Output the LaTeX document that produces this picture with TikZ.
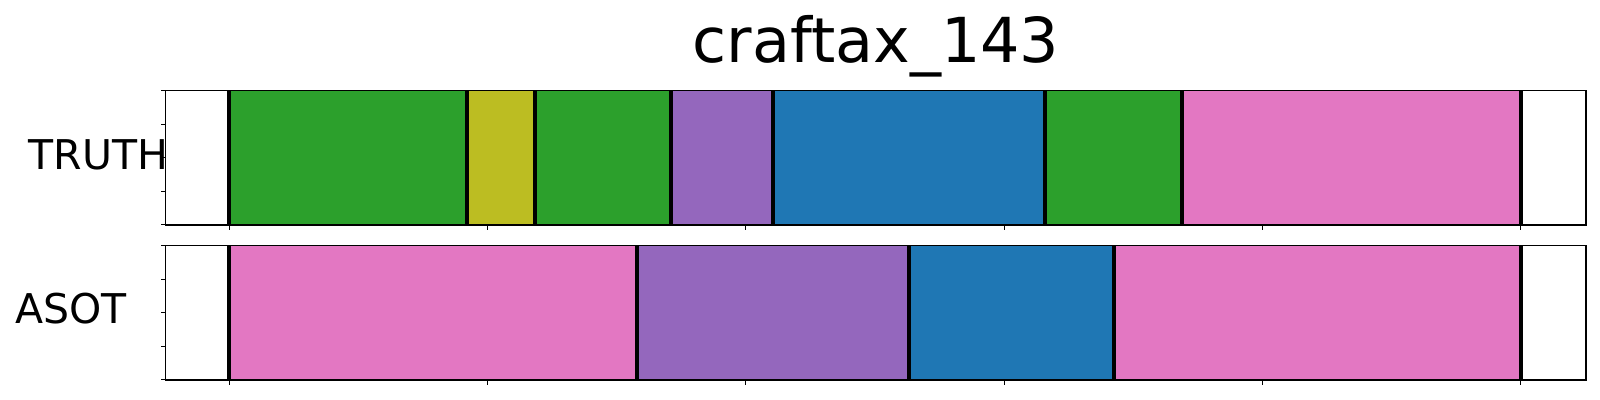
\documentclass[tikz,border=0pt]{standalone}
\usepackage{fontspec}
\setmainfont{DejaVu Sans}
\usepackage{xcolor}
\definecolor{tabgreen}{HTML}{2CA02C}
\definecolor{tabolive}{HTML}{BCBD22}
\definecolor{tabpurple}{HTML}{9467BD}
\definecolor{tabblue}{HTML}{1F77B4}
\definecolor{tabpink}{HTML}{E377C2}
\begin{document}
\begin{tikzpicture}[x=0.5pt,y=-0.5pt,
	rowlabel/.style={font=\fontsize{20.5}{25}\selectfont, inner sep=0pt, anchor=base},
	bound/.style={line width=1.9pt},
	frame/.style={line width=0.65pt},
	tickmark/.style={line width=0.5pt}]
	\useasboundingbox (0,0) rectangle (1600,400);
	\node [font=\fontsize{31}{37}\selectfont, inner sep=0pt, anchor=base] (title) at (876,62.7) {craftax\_143};
	\node [rowlabel] (truth) at (98.5,170) {TRUTH};
	\node [rowlabel] (asot) at (71.3,323.3) {ASOT};
	% TRUTH row
	\foreach \a/\b/\c in {229/467/tabgreen, 467/535/tabolive, 535/671/tabgreen, 671/773/tabpurple, 773/1045/tabblue, 1045/1182/tabgreen, 1182/1521/tabpink}
		\fill [\c] (\a,90.7) rectangle (\b,225);
	\foreach \x in {229,467,535,671,773,1045,1182,1521}
		\draw [bound] (\x,90.7) -- (\x,225);
	% ASOT row
	\foreach \a/\b/\c in {229/637/tabpink, 637/909/tabpurple, 909/1114/tabblue, 1114/1521/tabpink}
		\fill [\c] (\a,245.7) rectangle (\b,380);
	\foreach \x in {229,637,909,1114,1521}
		\draw [bound] (\x,245.7) -- (\x,380);
	% frames and ticks
	\foreach \t/\u in {90.7/225, 245.7/380} {
		\draw [frame] (165.7,\t) rectangle (1586,\u);
		\foreach \k in {0,...,5}
			\draw [tickmark] (229.3+258.3*\k,\u) -- ++(0,5);
		\foreach \k in {0,...,4}
			\draw [tickmark] (165.7,\t+33.575*\k) -- ++(-5,0);
	}
\end{tikzpicture}
\end{document}
